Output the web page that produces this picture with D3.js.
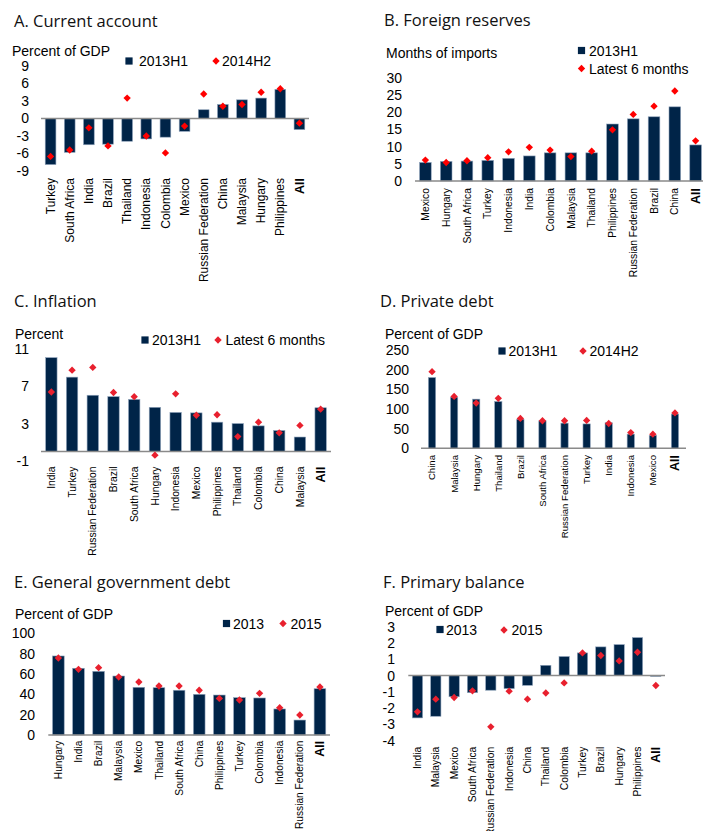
<!DOCTYPE html>
<html>
<head>
<meta charset="utf-8">
<script src="https://cdn.jsdelivr.net/npm/d3@7"></script>
<style>
	body { margin: 0; background: #fff; }
	svg { display: block; }
</style>
</head>
<body>
<svg width="703" height="831"></svg>
<script>
// A. Current account
const caCountries = ["Turkey", "South Africa", "India", "Brazil", "Thailand", "Indonesia", "Colombia", "Mexico", "Russian Federation", "China", "Malaysia", "Hungary", "Philippines", "All"];
const ca2013H1 = [-7.9, -5.8, -4.5, -4.4, -3.9, -3.5, -3.2, -2.2, 1.5, 2.4, 3.2, 3.5, 5.0, -1.9];
const ca2014H2 = [-6.5, -5.4, -1.6, -4.7, 3.5, -3.0, -5.9, -1.3, 4.2, 2.1, 2.4, 4.5, 5.1, -0.8];

// B. Foreign reserves
const resCountries = ["Mexico", "Hungary", "South Africa", "Turkey", "Indonesia", "India", "Colombia", "Malaysia", "Thailand", "Philippines", "Russian Federation", "Brazil", "China", "All"];
const res2013H1 = [5.4, 5.7, 5.8, 6.0, 6.6, 7.3, 8.2, 8.2, 8.2, 16.6, 18.1, 18.7, 21.6, 10.5];
const resLatest = [6.1, 5.4, 5.9, 6.8, 8.5, 9.8, 9.0, 7.1, 8.7, 14.9, 19.4, 21.8, 26.2, 11.7];

// C. Inflation
const infCountries = ["India", "Turkey", "Russian Federation", "Brazil", "South Africa", "Hungary", "Indonesia", "Mexico", "Philippines", "Thailand", "Colombia", "China", "Malaysia", "All"];
const inf2013H1 = [10.1, 8.0, 6.05, 5.9, 5.6, 4.75, 4.2, 4.15, 3.15, 3.0, 2.75, 2.25, 1.55, 4.7];
const infLatest = [6.4, 8.75, 9.05, 6.35, 5.9, -0.4, 6.2, 3.9, 3.95, 1.6, 3.15, 2.0, 2.8, 4.55];

// D. Private debt
const pdCountries = ["China", "Malaysia", "Hungary", "Thailand", "Brazil", "South Africa", "Russian Federation", "Turkey", "India", "Indonesia", "Mexico", "All"];
const pd2013H1 = [180, 130, 125, 119, 74, 70, 64, 62, 65, 36, 33, 87];
const pd2014H2 = [195, 132, 115, 127, 76, 70, 70, 71, 63, 40, 36, 90];

// E. General government debt
const gdCountries = ["Hungary", "India", "Brazil", "Malaysia", "Mexico", "Thailand", "South Africa", "China", "Philippines", "Turkey", "Colombia", "Indonesia", "Russian Federation", "All"];
const gd2013 = [77.7, 65.6, 62.6, 58, 46.9, 46.5, 44, 40, 39.3, 36.7, 36.4, 25.6, 14.7, 45.5];
const gd2015 = [75.7, 64.6, 66.2, 57, 52.1, 48.2, 48.2, 44, 36, 34.4, 41, 26.8, 19.7, 47.2];

// F. Primary balance
const pbCountries = ["India", "Malaysia", "Mexico", "South Africa", "Russian Federation", "Indonesia", "China", "Thailand", "Colombia", "Turkey", "Brazil", "Hungary", "Philippines", "All"];
const pb2013 = [-2.6, -2.5, -1.3, -1.05, -0.9, -0.8, -0.6, 0.63, 1.17, 1.39, 1.76, 1.9, 2.33, -0.05];
const pb2015 = [-2.23, -1.45, -1.35, -0.94, -3.15, -0.96, -1.45, -1.07, -0.45, 1.39, 1.23, 0.9, 1.43, -0.61];

const svg = d3.select("svg");
const barColour = "#002448";
const textFont = "'Liberation Sans', Arial, sans-serif";
const titleFont = "'Open Sans', 'Noto Sans', sans-serif";

const panels = [
	{
		title: "A. Current account", titleX: 14, titleY: 27,
		unit: "Percent of GDP", unitX: 12, unitY: 56,
		cats: caCountries, bars: ca2013H1, dots: ca2014H2,
		barName: "2013H1", dotName: "2014H2",
		legend: { sq: [129, 61], sqText: 139, dot: [216, 61], dotText: 222 },
		x0: 41, x1: 309, barRatio: 0.56,
		domain: [-9, 9], range: [171, 66], ticks: [-9, -6, -3, 0, 3, 6, 9], tickX: 29,
		labelY: 178, labelSize: 12, dotColour: "#ff0000"
	},
	{
		title: "B. Foreign reserves", titleX: 384, titleY: 26,
		unit: "Months of imports", unitX: 386, unitY: 58,
		cats: resCountries, bars: res2013H1, dots: resLatest,
		barName: "2013H1", dotName: "Latest 6 months",
		legend: { sq: [581.5, 50.5], sqText: 589, dot: [581.5, 68.5], dotText: 589 },
		x0: 415, x1: 706, barRatio: 0.56,
		domain: [0, 30], range: [181, 78], ticks: [0, 5, 10, 15, 20, 25, 30], tickX: 402,
		labelY: 188, labelSize: 10.3, dotColour: "#ff0000"
	},
	{
		title: "C. Inflation", titleX: 14, titleY: 307,
		unit: "Percent", unitX: 15, unitY: 339,
		cats: infCountries, bars: inf2013H1, dots: infLatest,
		barName: "2013H1", dotName: "Latest 6 months",
		legend: { sq: [145, 340], sqText: 152, dot: [218, 340], dotText: 225.5 },
		x0: 41, x1: 331, barRatio: 0.55,
		domain: [-1, 11], range: [460.7, 349.3], ticks: [-1, 3, 7, 11], tickX: 29,
		labelY: 466.5, labelSize: 10.3, dotColour: "#e8202e"
	},
	{
		title: "D. Private debt", titleX: 380, titleY: 307,
		unit: "Percent of GDP", unitX: 385, unitY: 339,
		cats: pdCountries, bars: pd2013H1, dots: pd2014H2,
		barName: "2013H1", dotName: "2014H2",
		legend: { sq: [502, 351], sqText: 508.5, dot: [583, 351], dotText: 589.5 },
		x0: 421, x1: 686, barRatio: 0.33,
		domain: [0, 250], range: [448.3, 350], ticks: [0, 50, 100, 150, 200, 250], tickX: 409,
		labelY: 455, labelSize: 9.6, dotColour: "#e8202e"
	},
	{
		title: "E. General government debt", titleX: 14, titleY: 588,
		unit: "Percent of GDP", unitX: 15, unitY: 619,
		cats: gdCountries, bars: gd2013, dots: gd2015,
		barName: "2013", dotName: "2015",
		legend: { sq: [226.5, 623.5], sqText: 233, dot: [283, 623.5], dotText: 290.5 },
		x0: 48.3, x1: 330, barRatio: 0.58,
		domain: [0, 100], range: [735, 633.3], ticks: [0, 20, 40, 60, 80, 100], tickX: 35,
		labelY: 740.7, labelSize: 10.2, dotColour: "#e8202e"
	},
	{
		title: "F. Primary balance", titleX: 383, titleY: 588,
		unit: "Percent of GDP", unitX: 385, unitY: 616,
		cats: pbCountries, bars: pb2013, dots: pb2015,
		barName: "2013", dotName: "2015",
		legend: { sq: [440, 629.5], sqText: 446, dot: [504, 630], dotText: 511.5 },
		x0: 408.3, x1: 665, barRatio: 0.56,
		domain: [-4, 3], range: [740.7, 626.7], ticks: [-4, -3, -2, -1, 0, 1, 2, 3], tickX: 395,
		labelY: 746.7, labelSize: 10.3, dotColour: "#e8202e"
	}
];

const diamond = d3.symbol().type(d3.symbolSquare).size(27);

const drawPanel = (p) => {
	const g = svg.append("g");

	g.append("text")
		.attr("x", p.titleX)
		.attr("y", p.titleY)
		.attr("font-family", titleFont)
		.attr("font-size", "16.5px")
		.attr("fill", "#111")
		.text(p.title);

	g.append("text")
		.attr("x", p.unitX)
		.attr("y", p.unitY)
		.attr("font-family", textFont)
		.attr("font-size", "14px")
		.text(p.unit);

	const x = d3
		.scaleBand()
		.domain(p.cats)
		.range([p.x0, p.x1])
		.paddingInner(1 - p.barRatio)
		.paddingOuter((1 - p.barRatio) / 2);
	const y = d3.scaleLinear().domain(p.domain).range(p.range);

	// value ticks, labels only (plain hyphen minus like the original)
	g.append("g")
		.attr("transform", "translate(" + p.tickX + ",0)")
		.call(
			d3.axisLeft(y)
				.tickValues(p.ticks)
				.tickFormat((d) => String(d))
				.tickSize(0)
				.tickPadding(0)
		)
		.call((a) => a.select(".domain").remove())
		.call((a) =>
			a.selectAll(".tick text")
				.attr("font-family", textFont)
				.attr("font-size", "14px")
				.attr("fill", "#000")
		);

	// bars
	g.selectAll(".bar")
		.data(p.cats)
		.join("rect")
		.attr("class", "bar")
		.attr("x", (d) => x(d))
		.attr("width", x.bandwidth())
		.attr("y", (d, i) => Math.min(y(p.bars[i]), y(0)))
		.attr("height", (d, i) => Math.abs(y(p.bars[i]) - y(0)))
		.attr("fill", barColour)
		.attr("stroke", "#8fa3bb")
		.attr("stroke-width", 0.6);

	// zero line
	g.append("line")
		.attr("x1", p.x0)
		.attr("x2", p.x1)
		.attr("y1", y(0))
		.attr("y2", y(0))
		.attr("stroke", "#8a8a8a")
		.attr("stroke-width", 1.5);

	// diamonds
	g.selectAll(".dot")
		.data(p.cats)
		.join("path")
		.attr("class", "dot")
		.attr("d", diamond)
		.attr("fill", p.dotColour)
		.attr("transform", (d, i) =>
			"translate(" + (x(d) + x.bandwidth() / 2) + "," + y(p.dots[i]) + ") rotate(45)"
		);

	// category labels
	g.append("g")
		.attr("transform", "translate(0," + p.labelY + ")")
		.call(d3.axisBottom(x).tickSize(0))
		.call((a) => a.select(".domain").remove())
		.call((a) =>
			a.selectAll(".tick text")
				.attr("transform", "rotate(-90)")
				.attr("x", 0)
				.attr("y", 0)
				.attr("dy", "0.35em")
				.attr("text-anchor", "end")
				.attr("font-family", textFont)
				.attr("font-size", (d) => (d === "All" ? "12.5px" : p.labelSize + "px"))
				.attr("font-weight", (d) => (d === "All" ? "bold" : "normal"))
				.attr("fill", "#000")
		);

	// legend
	const lg = g.append("g").attr("font-family", textFont).attr("font-size", "14px");
	lg.append("rect")
		.attr("x", p.legend.sq[0] - 3.6)
		.attr("y", p.legend.sq[1] - 3.6)
		.attr("width", 7.2)
		.attr("height", 7.2)
		.attr("fill", barColour);
	lg.append("text")
		.attr("x", p.legend.sqText)
		.attr("y", p.legend.sq[1])
		.attr("dy", "0.36em")
		.text(p.barName);
	lg.append("path")
		.attr("d", diamond)
		.attr("fill", p.dotColour)
		.attr("transform", "translate(" + p.legend.dot[0] + "," + p.legend.dot[1] + ") rotate(45)");
	lg.append("text")
		.attr("x", p.legend.dotText)
		.attr("y", p.legend.dot[1])
		.attr("dy", "0.36em")
		.text(p.dotName);
};

panels.forEach(drawPanel);
</script>
</body>
</html>
